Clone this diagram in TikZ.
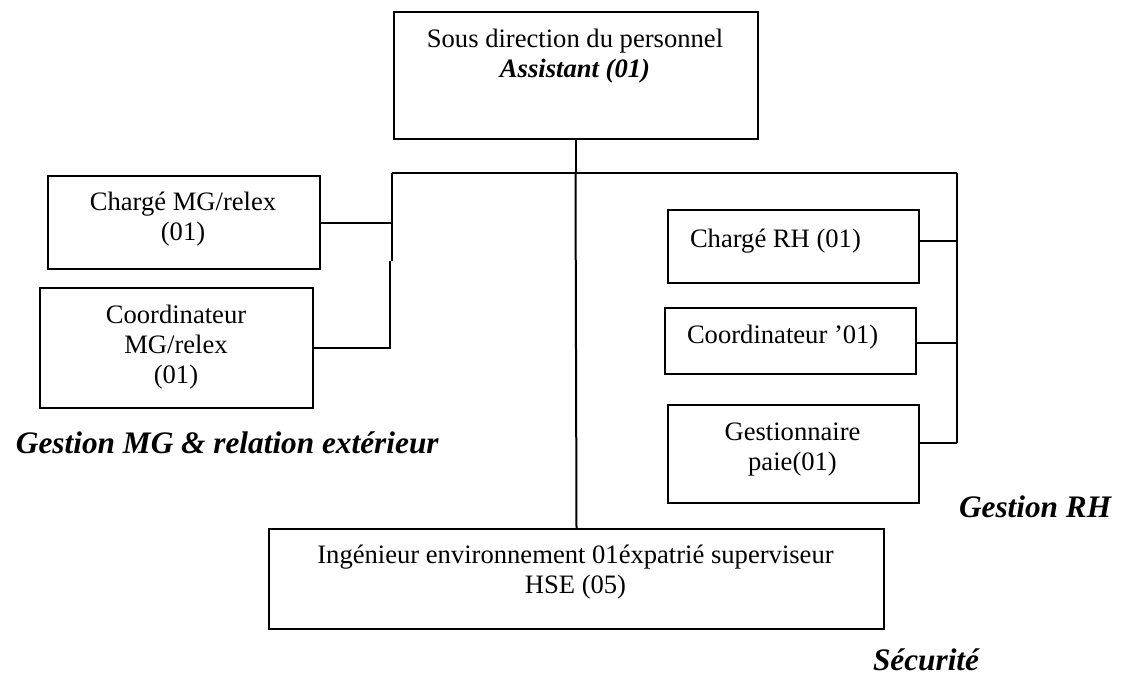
\documentclass[tikz,border=0pt]{standalone}
\usepackage{fontspec}
\setmainfont{Liberation Serif}
\begin{document}
\begin{tikzpicture}[x=1pt,y=-1pt,
  line width=2pt,
  box/.style={draw, line width=2pt, inner sep=0pt, anchor=north west},
  txt/.style={font=\fontsize{26.6}{30}\selectfont, align=center, inner sep=0pt, anchor=base},
  lbl/.style={font=\fontsize{31.3}{36}\selectfont\bfseries\itshape, inner sep=0pt, anchor=base west}]
\useasboundingbox (0,0) rectangle (1128,675);

% boxes
\node[box, minimum width=364pt, minimum height=127pt] (top) at (393,11) {};
\node[box, minimum width=272pt, minimum height=93pt]  (b1)  at (47,175) {};
\node[box, minimum width=273pt, minimum height=120pt] (b2)  at (39,287) {};
\node[box, minimum width=251pt, minimum height=73pt]  (r1)  at (667,209) {};
\node[box, minimum width=251pt, minimum height=66pt]  (r2)  at (664,307) {};
\node[box, minimum width=251pt, minimum height=98pt]  (r3)  at (667,404) {};
\node[box, minimum width=615pt, minimum height=100pt] (bot) at (268,528) {};

% box texts (a multi-line node sits on the baseline of its last line)
\node[txt] (tTop) at (575,77) {Sous direction du personnel\\\textbf{\textit{Assistant (01)}}};
\node[txt] (tB1) at (183,240) {Chargé MG/relex\\(01)};
\node[txt] (tB2) at (176,383) {Coordinateur\\MG/relex\\(01)};
\node[txt, anchor=base west] (tR1) at (689,247) {Chargé RH (01)};
\node[txt, anchor=base west] (tR2) at (686,343) {Coordinateur ’01)};
\node[txt] (tR3) at (792.5,470) {Gestionnaire\\paie(01)};
\node[txt] (tBot) at (575.5,593) {Ingénieur environnement 01éxpatrié superviseur\\HSE (05)};

% group labels
\node[lbl] (lMG) at (15,453) {Gestion MG \& relation extérieur};
\node[lbl] (lRH) at (958,517) {Gestion RH};
\node[lbl] (lSec) at (872,670) {Sécurité};

% connector points
\coordinate (busL) at (392,173);
\coordinate (busM) at (575.5,173);
\coordinate (busR) at (957,173);
\coordinate (jogA) at (392,261);
\coordinate (jogB) at (390,261);
\coordinate (hR1) at (957,241);
\coordinate (hR2) at (957,343);
\coordinate (hR3) at (957,443);

% connectors
\draw (top.south) -- (top.south |- busL);
\draw (busL) -- (busR);
\draw (busL) -- (jogA);
\draw (jogB) -- (jogB |- b2.east) -- (b2.east);
\draw (b1.east) -- (b1.east -| busL);
\draw (busM) -- (bot.north);
\draw (busR) -- (hR3);
\draw (r1.east |- hR1) -- (hR1);
\draw (r2.east |- hR2) -- (hR2);
\draw (r3.east |- hR3) -- (hR3);
\end{tikzpicture}
\end{document}
